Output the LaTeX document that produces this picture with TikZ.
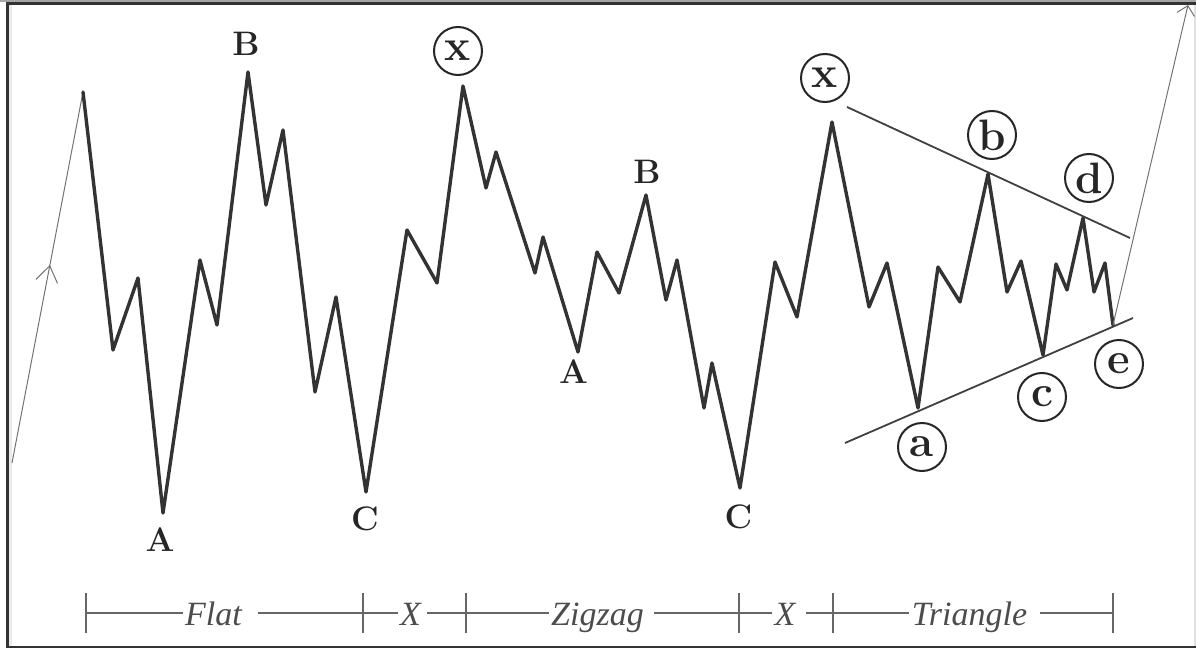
\documentclass[tikz,border=0pt]{standalone}
\usepackage{fontspec}
\newfontfamily\barfont{Liberation Serif}
\usepackage{tikz}
\usetikzlibrary{arrows.meta, positioning, decorations.markings}

\begin{document}
\begin{tikzpicture}[
    x=0.5pt, y=-0.5pt,
    wave/.style={line width=1.7pt, draw=black!80, line join=round, line cap=round},
    trend/.style={line width=0.9pt, draw=black!75},
    thinline/.style={line width=0.5pt, draw=black!55},
    ltr/.style={font=\fontsize{17}{20}\selectfont\bfseries, text=black!85, inner sep=0pt},
    circ/.style={
        circle, draw=black!85, line width=1pt,
        minimum size=24pt, inner sep=0pt,
        font=\fontsize{22}{24}\selectfont\bfseries, text=black!85
    },
    bar/.style={line width=0.6pt, draw=black!60},
    barlbl/.style={font=\barfont\itshape\fontsize{17}{20}\selectfont, text=black!70, inner xsep=1pt, anchor=base}
]
    \useasboundingbox (0,0) rectangle (1196,648);

    % frame
    \fill[black!35] (0,0) rectangle (1196,2);
    \fill[black!80] (6,2) rectangle (1196,4.5);
    \fill[black!80] (6,2) rectangle (9,648);
    \fill[black!8] (9,4.5) rectangle (12,645.5);
    \fill[black!80] (6,645.5) rectangle (1196,648);
    \fill[black!12] (1193.5,4.5) rectangle (1196,645.5);

    % incoming trend
    \coordinate (s0) at (12,463);
    \coordinate (p0) at (83,92);
    \draw[thinline, postaction={decorate},
        decoration={markings, mark=at position 0.534 with {\arrow{Straight Barb[length=8pt,width=11pt]}}}]
        (s0) -- (p0);

    % the wave
    \draw[wave] (p0) -- (113,350) -- (138,278) -- (163,513) coordinate (fA)
        -- (200,260) -- (217,325) -- (248,72) coordinate (fB)
        -- (266,205) -- (283,130) -- (315,392) -- (336,297)
        -- (366,492) coordinate (fC) -- (407,230) -- (437,283)
        -- (463,86) coordinate (x1) -- (486,188) -- (496,152) -- (535,273) -- (543,237)
        -- (578,352) coordinate (zA) -- (597,252) -- (619,293)
        -- (646,195) coordinate (zB) -- (666,300) -- (677,260) -- (704,408) -- (712,363)
        -- (740,488) coordinate (zC) -- (775,262) -- (797,317)
        -- (832,122) coordinate (x2) -- (869,307) -- (887,263)
        -- (918,408) coordinate (ta) -- (938,267) -- (960,302)
        -- (988,174) coordinate (tb) -- (1007,292) -- (1021,261)
        -- (1043,355) coordinate (tc) -- (1056,264) -- (1067,290)
        -- (1083,218) coordinate (td) -- (1094,292) -- (1105,263)
        -- (1113,325) coordinate (te);

    % breakout
    \coordinate (out) at (1188,5);
    \draw[thinline, -{Straight Barb[length=4.5pt,width=9pt]}] (te) -- (out);

    % triangle boundaries
    \coordinate (ul) at (847,107);
    \coordinate (ur) at (1130,238);
    \coordinate (ll) at (845,443);
    \coordinate (lr) at (1133,318);
    \draw[trend] (ul) -- (ur);
    \draw[trend] (ll) -- (lr);

    % wave labels
    \node[ltr] (lfA) at (160,540) {A};
    \node[ltr] (lfB) at (246,44) {B};
    \node[ltr] (lfC) at (365,519) {C};
    \node[ltr] (lzA) at (573.5,372) {A};
    \node[ltr] (lzB) at (647,172) {B};
    \node[ltr] (lzC) at (738.5,517) {C};

    \node[circ] (cx1) at (458,51) {x};
    \node[circ] (cx2) at (825,78) {x};
    \node[circ] (ca) at (922,447) {a};
    \node[circ] (cb) at (992,135) {b};
    \node[circ] (cc) at (1042,397) {c};
    \node[circ] (cd) at (1089,178) {d};
    \node[circ] (ce) at (1119,364) {e};

    % bottom scale
    \coordinate (t1) at (86,613);
    \coordinate (t2) at (363,613);
    \coordinate (t3) at (466,613);
    \coordinate (t4) at (739,613);
    \coordinate (t5) at (833,613);
    \coordinate (t6) at (1113,613);
    \foreach \t in {t1,t2,t3,t4,t5,t6}
        \draw[bar] ([yshift=10pt]\t) -- ([yshift=-10pt]\t);

    \node[barlbl] (flat) at (213.5,625) {Flat};
    \node[barlbl] (bx1) at (410.5,625) {X};
    \node[barlbl] (zig) at (597.5,625) {Zigzag};
    \node[barlbl] (bx2) at (785,625) {X};
    \node[barlbl] (tri) at (969.5,625) {Triangle};

    \draw[bar] (t1) -- (flat.west |- t1)
        ([xshift=7pt]flat.east |- t1) -- (bx1.west |- t1)
        ([xshift=2pt]bx1.east |- t1) -- (zig.west |- t1)
        ([xshift=4pt]zig.east |- t1) -- (bx2.west |- t1)
        ([xshift=4pt]bx2.east |- t1) -- (tri.west |- t1)
        ([xshift=5pt]tri.east |- t1) -- (t6);
\end{tikzpicture}
\end{document}
